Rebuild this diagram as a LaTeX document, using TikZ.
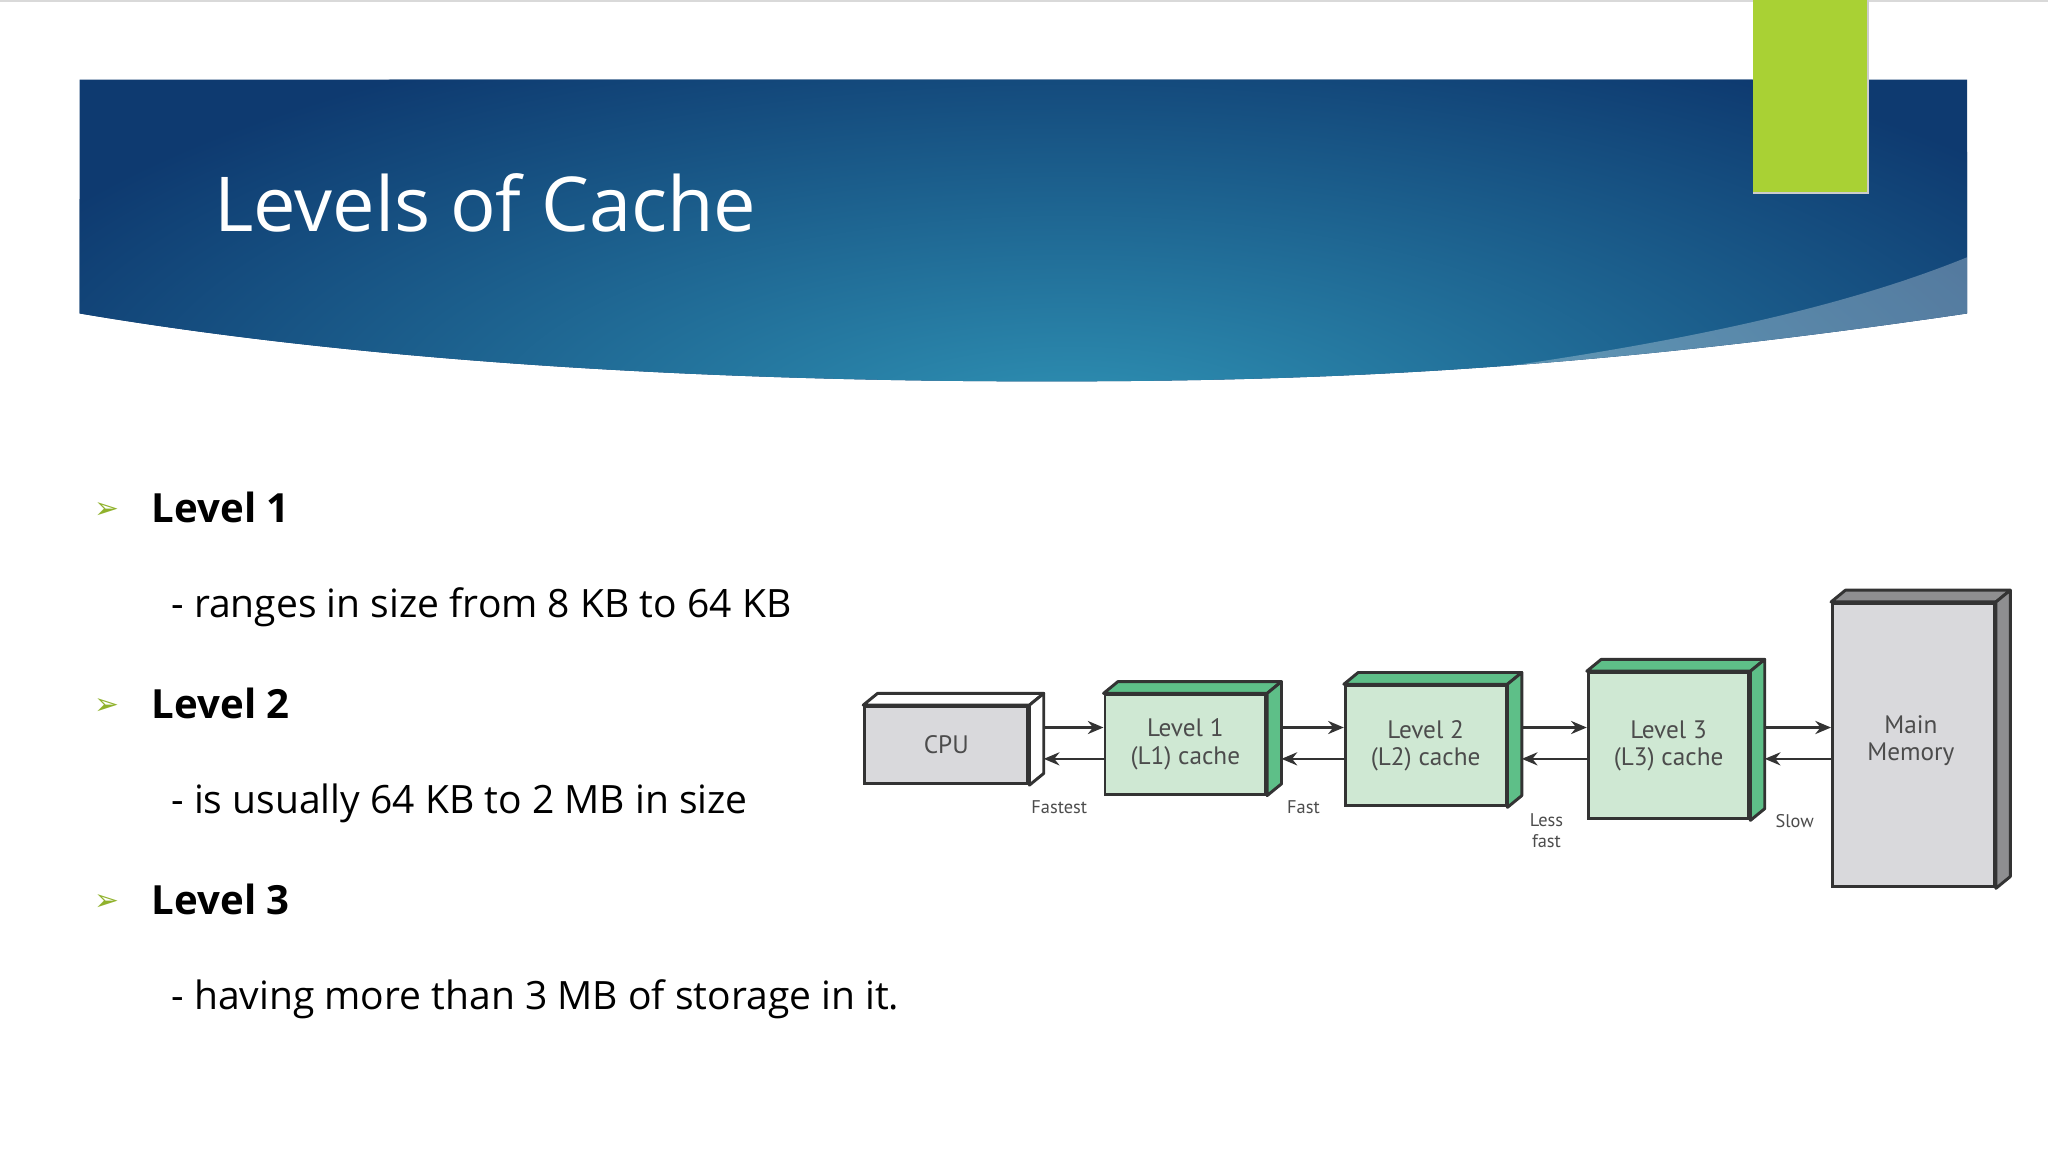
\documentclass[tikz,border=0pt]{standalone}
\usepackage{fontspec}
\setmainfont{Open Sans}
\newfontfamily\dfont{PT Sans}
\newfontfamily\symfont{DejaVu Sans}
\usetikzlibrary{arrows.meta}
\definecolor{bdark}{HTML}{0E3A70}
\definecolor{bteal}{HTML}{2F93B5}
\definecolor{lgreen}{HTML}{A9D134}
\definecolor{cgf}{HTML}{CFE8D3}
\definecolor{cgs}{HTML}{5EBF88}
\definecolor{cyf}{HTML}{D9D9DC}
\definecolor{cys}{HTML}{8E8E90}
\tikzset{
 box/.style={draw=black!80,line width=0.45mm,inner sep=0pt,align=center,font=\dfont\fontsize{11}{12}\selectfont,text=black!70},
 gbox/.style={box,fill=cgf},
 ybox/.style={box,fill=cyf},
 conn/.style={line width=0.4mm,black!80,-{Stealth[length=2.4mm,width=2mm]}},
 lab/.style={font=\dfont\fontsize{8}{8}\selectfont,text=black!70,align=center},
 head/.style={anchor=base west,font=\bfseries\fontsize{17.5}{22}\selectfont},
 sub/.style={anchor=base west,font=\fontsize{17}{22}\selectfont},
 bul/.style={anchor=base west,text=lgreen!85!black,font=\symfont\fontsize{13}{13}\selectfont}
}
\newcommand{\depth}[2]{% node, side colour
 \filldraw[fill=#2,draw=black!80,line width=0.45mm,line join=round]
  (#1.north west) -- ++(11,-9) -- ([shift={(11,-9)}]#1.north east) -- (#1.north east) -- cycle;
 \filldraw[fill=#2,draw=black!80,line width=0.45mm,line join=round]
  (#1.north east) -- ++(11,-9) -- ([shift={(11,-9)}]#1.south east) -- (#1.south east) -- cycle;}
\begin{document}
\begin{tikzpicture}[x=0.2mm,y=-0.2mm]
\useasboundingbox (0,0) rectangle (1568,882);
\fill[white] (0,0) rectangle (1568,882);
\draw[black!15,line width=0.3mm] (0,0.5) -- (1568,0.5);
% banner
\begin{scope}
\clip (61,61) -- (1506,61) -- (1506,240) .. controls (1200,285) and (1000,292) .. (800,292) .. controls (500,292) and (250,272) .. (61,240) -- cycle;
\fill[bdark] (0,0) rectangle (1568,400);
\shade[inner color=bteal,outer color=bdark] (820,330) ellipse (900 and 330);
\fill[white,opacity=0.28] (1506,197) .. controls (1400,240) and (1250,272) .. (1000,300) -- (1600,400) -- cycle;
\end{scope}
\fill[lgreen] (1342,0) rectangle (1430,147);
\draw[black!20,line width=0.3mm] (1430,0) -- (1430,148) -- (1342,148);
\node[anchor=base west,text=white,font=\fontsize{33}{38}\selectfont] (title) at (158,177) {Levels of Cache};
% bullets
\foreach \y/\n in {390/1,540/2,690/3}{
 \node[bul] (b\n) at (66,\y+7) {➢};
 \node[head] (h\n) at (110,\y+10) {Level \n};}
\node[sub] (s1) at (125,473) {- ranges in size from 8 KB to 64 KB};
\node[sub] (s2) at (125,623) {- is usually 64 KB to 2 MB in size};
\node[sub] (s3) at (125,773) {- having more than 3 MB of storage in it.};
% diagram
\node[ybox,minimum width=25mm,minimum height=11.8mm] (cpu) at (724.5,570.5) {CPU};
\node[gbox,minimum width=24.6mm,minimum height=15.2mm] (l1) at (907.5,570) {Level 1\\(L1) cache};
\node[gbox,minimum width=24.6mm,minimum height=18.4mm] (l2) at (1091.5,571) {Level 2\\(L2) cache};
\node[gbox,minimum width=24.6mm,minimum height=22.4mm] (l3) at (1277.5,571) {Level 3\\(L3) cache};
\node[ybox,minimum width=24.8mm,minimum height=43.4mm] (mm) at (1465,570.5) {};
\node[font=\dfont\fontsize{11}{12}\selectfont,text=black!70,align=center] (mmt) at (1463,567) {Main\\Memory};
\depth{cpu}{white}
\depth{l1}{cgs}
\depth{l2}{cgs}
\depth{l3}{cgs}
\depth{mm}{cys}
\foreach \a/\b in {cpu/l1,l1/l2,l2/l3,l3/mm}{
 \draw[conn] ([xshift=2.2mm]\a.east |- 0,557) -- (\b.west |- 0,557);
 \draw[conn] (\b.west |- 0,581) -- ([xshift=2.2mm]\a.east |- 0,581);}
\node[lab] (f1) at (811,618) {Fastest};
\node[lab] (f2) at (998,618) {Fast};
\node[lab,font=\dfont\fontsize{8}{9.5}\selectfont] (f3) at (1184,636) {Less\\fast};
\node[lab] (f4) at (1374,629) {Slow};
\end{tikzpicture}
\end{document}
